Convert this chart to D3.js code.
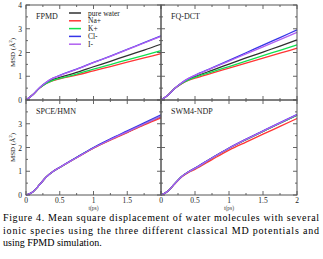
<!DOCTYPE html>
<html>
<head>
<meta charset="utf-8">
<script src="https://cdn.jsdelivr.net/npm/d3@7"></script>
<style>
  body { margin: 0; background: #fff; }
  svg { display: block; font-family: "Liberation Serif", "DejaVu Serif", serif; }
</style>
</head>
<body>
<div id="chart"></div>
<script>
const times = [0, 0.1, 0.2, 0.3, 0.4, 0.5, 0.75, 1, 1.25, 1.5, 1.75, 2];

const speciesNames = ["pure water", "Na+", "K+", "Cl-", "I-"];
const speciesColors = ["#303030", "#ff3535", "#10e050", "#3535e8", "#b060f0"];

const panelNames = ["FPMD", "FQ-DCT", "SPCE/HMN", "SWM4-NDP"];

// MSD values per panel, in the order of speciesNames
const fpmd = [
    [0, 0.22, 0.5, 0.72, 0.86, 0.95, 1.16, 1.4, 1.63, 1.87, 2.1, 2.35],
    [0, 0.22, 0.5, 0.7, 0.82, 0.89, 1.05, 1.23, 1.41, 1.59, 1.77, 1.95],
    [0, 0.22, 0.5, 0.7, 0.83, 0.91, 1.09, 1.3, 1.49, 1.69, 1.88, 2.08],
    [0, 0.22, 0.52, 0.75, 0.92, 1.04, 1.3, 1.58, 1.85, 2.13, 2.42, 2.7],
    [0, 0.22, 0.52, 0.75, 0.92, 1.03, 1.29, 1.57, 1.84, 2.12, 2.4, 2.68]
];
const fqdct = [
    [0, 0.2, 0.48, 0.7, 0.86, 0.98, 1.25, 1.51, 1.77, 2.02, 2.27, 2.53],
    [0, 0.2, 0.48, 0.68, 0.82, 0.92, 1.13, 1.34, 1.55, 1.76, 1.97, 2.18],
    [0, 0.2, 0.48, 0.69, 0.84, 0.95, 1.18, 1.41, 1.64, 1.87, 2.09, 2.32],
    [0, 0.2, 0.48, 0.72, 0.9, 1.04, 1.35, 1.67, 1.99, 2.31, 2.63, 2.95],
    [0, 0.2, 0.48, 0.72, 0.9, 1.04, 1.34, 1.64, 1.94, 2.24, 2.54, 2.85]
];
const spce = [
    [0, 0.13, 0.43, 0.76, 0.99, 1.16, 1.58, 1.98, 2.33, 2.65, 2.98, 3.3],
    [0, 0.13, 0.43, 0.76, 0.99, 1.16, 1.57, 1.97, 2.31, 2.63, 2.95, 3.25],
    [0, 0.13, 0.43, 0.76, 0.99, 1.16, 1.58, 1.99, 2.34, 2.67, 3.0, 3.33],
    [0, 0.13, 0.43, 0.76, 0.99, 1.17, 1.59, 2.0, 2.36, 2.7, 3.04, 3.38],
    [0, 0.13, 0.43, 0.76, 0.99, 1.16, 1.57, 1.98, 2.33, 2.66, 2.99, 3.32]
];
const swm4 = [
    [0, 0.16, 0.47, 0.77, 0.97, 1.12, 1.56, 1.97, 2.33, 2.68, 3.02, 3.36],
    [0, 0.16, 0.46, 0.75, 0.94, 1.08, 1.49, 1.89, 2.23, 2.56, 2.89, 3.22],
    [0, 0.16, 0.47, 0.77, 0.97, 1.12, 1.56, 1.97, 2.33, 2.68, 3.02, 3.36],
    [0, 0.16, 0.47, 0.77, 0.97, 1.13, 1.57, 1.98, 2.35, 2.7, 3.05, 3.39],
    [0, 0.16, 0.47, 0.77, 0.97, 1.12, 1.56, 1.97, 2.34, 2.69, 3.04, 3.38]
];
const panelValues = [fpmd, fqdct, spce, swm4];

const xTicks = [0, 0.5, 1, 1.5, 2];
const yTicks = [0, 1, 2, 3, 4];

const captionLines = [
    "Figure 4. Mean square displacement of water molecules with several",
    "ionic species using the three different classical MD potentials and",
    "using FPMD simulation."
];

const width = 323, height = 259;
const svg = d3.select("#chart").append("svg")
    .attr("width", width)
    .attr("height", height);

const cols = [[26, 161], [161, 297]];
const rows = [[5, 100], [100, 195]];

panelNames.forEach((name, i) => {
    const col = i % 2, row = Math.floor(i / 2);
    const x = d3.scaleLinear().domain([0, 2]).range(cols[col]);
    const y = d3.scaleLinear().domain([0, 4]).range([rows[row][1], rows[row][0]]);
    const g = svg.append("g");

    // ticks on all four sides, pointing inward
    const tickColor = "#666";
    const xMajor = d3.range(0, 2.01, 0.5), xMinor = d3.range(0.25, 2, 0.5);
    const yMajor = d3.range(0, 4.01, 1), yMinor = d3.range(0.5, 4, 1);
    const drawX = (vals, len) => {
        g.selectAll(null).data(vals).join("line")
            .attr("x1", d => x(d)).attr("x2", d => x(d))
            .attr("y1", y(0)).attr("y2", y(0) - len)
            .attr("stroke", tickColor).attr("stroke-width", 1);
        g.selectAll(null).data(vals).join("line")
            .attr("x1", d => x(d)).attr("x2", d => x(d))
            .attr("y1", y(4)).attr("y2", y(4) + len)
            .attr("stroke", tickColor).attr("stroke-width", 1);
    };
    const drawY = (vals, len) => {
        g.selectAll(null).data(vals).join("line")
            .attr("x1", x(0)).attr("x2", x(0) + len)
            .attr("y1", d => y(d)).attr("y2", d => y(d))
            .attr("stroke", tickColor).attr("stroke-width", 1);
        g.selectAll(null).data(vals).join("line")
            .attr("x1", x(2)).attr("x2", x(2) - len)
            .attr("y1", d => y(d)).attr("y2", d => y(d))
            .attr("stroke", tickColor).attr("stroke-width", 1);
    };
    drawX(xMajor, 4); drawX(xMinor, 2);
    drawY(yMajor, 4); drawY(yMinor, 2);

    // curves
    const line = d3.line()
        .x((d, k) => x(times[k]))
        .y(d => y(d))
        .curve(d3.curveMonotoneX);
    g.selectAll(null).data(panelValues[i]).join("path")
        .attr("d", line)
        .attr("fill", "none")
        .attr("stroke", (d, k) => speciesColors[k])
        .attr("stroke-width", 1.3);

    // frame
    g.append("rect")
        .attr("x", x(0)).attr("y", y(4))
        .attr("width", x(2) - x(0)).attr("height", y(0) - y(4))
        .attr("fill", "none").attr("stroke", "#555").attr("stroke-width", 1);

    g.append("text")
        .attr("x", x(0) + 10).attr("y", y(4) + 14)
        .attr("font-size", 8).attr("fill", "#222")
        .text(name);

    // y tick labels on the left column
    if (col === 0) {
        const labels = row === 0 ? yTicks : yTicks.slice(0, 4);
        g.selectAll(null).data(labels).join("text")
            .attr("x", x(0) - 4).attr("y", d => y(d) + 3)
            .attr("text-anchor", "end").attr("font-size", 7.5).attr("fill", "#222")
            .text(d => d);
        const ylab = g.append("text")
            .attr("transform", `translate(15,${(rows[row][0] + rows[row][1]) / 2}) rotate(-90)`)
            .attr("text-anchor", "middle").attr("font-size", 7).attr("fill", "#222");
        ylab.append("tspan").text("MSD (Å");
        ylab.append("tspan").attr("font-size", 5).attr("dy", -3).text("2");
        ylab.append("tspan").attr("dy", 3).text(")");
    }
    // x tick labels on the bottom row
    if (row === 1) {
        const labels = col === 0 ? xTicks.slice(0, 4) : xTicks;
        g.selectAll(null).data(labels).join("text")
            .attr("x", d => x(d)).attr("y", y(0) + 8)
            .attr("text-anchor", "middle").attr("font-size", 7.5).attr("fill", "#222")
            .text(d => d);
        g.append("text")
            .attr("x", x(1)).attr("y", y(0) + 15)
            .attr("text-anchor", "middle").attr("font-size", 5.5).attr("fill", "#333")
            .text("t(ps)");
    }

    // legend in the first panel
    if (i === 0) {
        const lg = g.append("g");
        speciesNames.forEach((s, k) => {
            const ly = 13 + k * 7.8;
            lg.append("line")
                .attr("x1", 69).attr("x2", 81).attr("y1", ly).attr("y2", ly)
                .attr("stroke", speciesColors[k]).attr("stroke-width", 1.5);
            lg.append("text")
                .attr("x", 88).attr("y", ly + 2.5)
                .attr("font-size", 7.5).attr("fill", "#222")
                .text(s);
        });
    }
});

// caption
svg.selectAll(".caption").data(captionLines).join("text")
    .attr("class", "caption")
    .attr("x", 3)
    .attr("y", (d, i) => 221 + i * 12.5)
    .attr("font-size", 10)
    .attr("fill", "#000")
    .each(function (d, i) {
        if (i < 2) d3.select(this).attr("textLength", 316).attr("lengthAdjust", "spacing");
    })
    .text(d => d);
</script>
</body>
</html>
